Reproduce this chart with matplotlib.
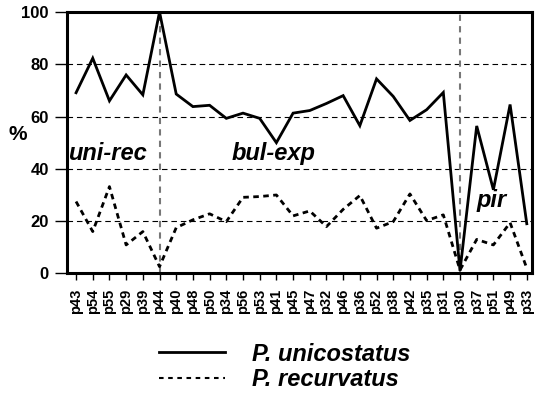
import matplotlib
matplotlib.use("Agg")
import matplotlib.pyplot as plt
from matplotlib.lines import Line2D

plt.rcParams['font.family'] = ['Liberation Sans', 'DejaVu Sans']

categories = ["p43", "p54", "p55", "p29", "p39", "p44", "p40", "p48", "p50", "p34",
              "p56", "p53", "p41", "p45", "p47", "p32", "p46", "p36", "p52", "p38",
              "p42", "p35", "p31", "p30", "p37", "p51", "p49", "p33"]
unicostatus = [69.1, 82.3, 66.0, 75.9, 68.3, 100.0, 68.6, 63.8, 64.3, 59.3,
               61.3, 59.3, 50.0, 61.3, 62.3, 65.0, 68.0, 56.5, 74.4, 67.7,
               58.5, 62.6, 69.2, 1.0, 56.4, 32.0, 64.6, 19.0]
recurvatus = [27.5, 16.0, 33.2, 10.9, 16.0, 2.6, 17.5, 20.5, 22.8, 19.8,
              29.1, 29.4, 30.0, 22.0, 23.9, 17.9, 24.5, 29.8, 17.3, 19.8,
              30.4, 20.2, 22.4, 1.3, 13.0, 10.9, 19.4, 2.0]
yticks = [0, 20, 40, 60, 80, 100]
group_breaks = ["p44", "p30"]
group_labels = ["uni-rec", "bul-exp", "pir"]
group_label_pos = [(-0.5, 46), (9.3, 46), (24.0, 28)]
series_names = ["P. unicostatus", "P. recurvatus"]

fig = plt.figure(figsize=(5.35, 3.98), dpi=100)
ax = fig.add_axes([0.125, 0.313, 0.869, 0.657])

x = list(range(len(categories)))
ax.plot(x, unicostatus, color='black', lw=2.0, solid_joinstyle='miter', zorder=3)
ax.plot(x, recurvatus, color='black', lw=2.0, dashes=(2, 1.6), zorder=3)

for yv in yticks[1:-1]:
    ax.axhline(yv, color='black', lw=0.8, dashes=(5, 3.5), zorder=1)
for b in group_breaks:
    ax.axvline(categories.index(b), color='#777777', lw=1.5, dashes=(3, 2.5), zorder=1)

for lab, (px, py) in zip(group_labels, group_label_pos):
    ax.text(px, py, lab, fontsize=17, fontweight='bold', fontstyle='italic',
            ha='left', va='center', zorder=4)

ax.set_xlim(-0.55, 27.3)
ax.set_ylim(0, 100)
ax.set_xticks(x)
ax.set_xticklabels(categories, rotation=90, fontsize=10.5, fontweight='bold')
ax.set_yticks(yticks)
ax.set_yticklabels([str(v) for v in yticks], fontsize=12, fontweight='bold')
ax.tick_params(axis='x', length=5, width=1, direction='out', pad=6)
ax.tick_params(axis='y', length=9, width=1, direction='out', pad=4)
for s in ax.spines.values():
    s.set_linewidth(2.2)
ax.set_ylabel('%', fontsize=15, fontweight='bold', rotation=0, ha='center', va='center')
ax.yaxis.set_label_coords(-0.105, 0.53)

handles = [Line2D([0], [0], color='black', lw=2.0),
           Line2D([0], [0], color='black', lw=1.5, dashes=(2.2, 2.2))]
fig.legend(handles, series_names, loc='center', bbox_to_anchor=(0.532, 0.078),
           frameon=False, handlelength=2.8, handletextpad=1.15, labelspacing=0.12,
           prop={'size': 17, 'weight': 'bold', 'style': 'italic'})

fig.savefig('out.png', dpi=100)
